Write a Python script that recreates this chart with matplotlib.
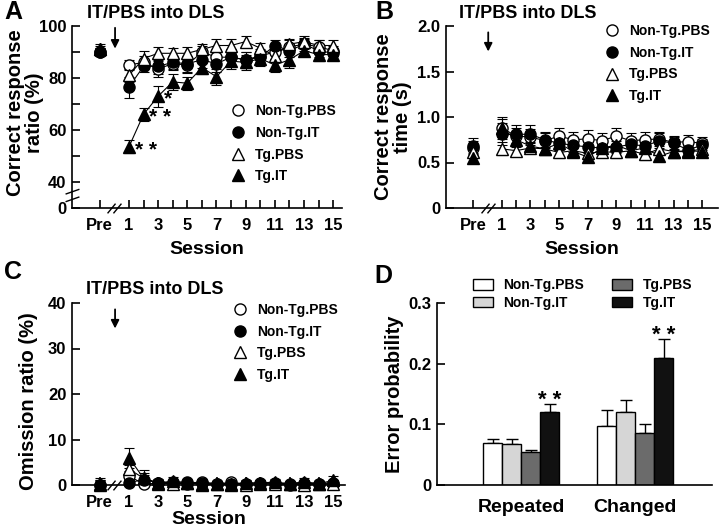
import numpy as np
import matplotlib
matplotlib.use("Agg")
import matplotlib.pyplot as plt
from matplotlib.patches import Patch
from matplotlib.lines import Line2D
from matplotlib.path import Path

plt.rcParams['font.family'] = ['Liberation Sans', 'DejaVu Sans']
plt.rcParams['font.weight'] = 'bold'

# sessions: Pre, then 1..15
session_x = [-1] + list(range(1, 16))
tick_labels = ["Pre"] + [str(s) if s % 2 == 1 else "" for s in range(1, 16)]
groups = ["Non-Tg.PBS", "Non-Tg.IT", "Tg.PBS", "Tg.IT"]

# A: correct response ratio (%)
ratio_ntg_pbs = [90, 85, 86, 83.5, 85.5, 85, 90, 88, 88, 87, 88.5, 90, 92, 93, 92, 90.5]
ratio_ntg_it = [90, 76.5, 84.5, 84.5, 86, 85.5, 87, 85.5, 88, 87, 88, 92.5, 90.5, 93, 90.5, 89.5]
ratio_tg_pbs = [91, 81, 87.5, 89.5, 89.5, 89.5, 91, 92.5, 92.5, 94, 91.5, 88.5, 93, 94, 92.5, 92.5]
ratio_tg_it = [91, 53.5, 66, 73, 78.5, 78, 84, 80.5, 86.5, 86, 87.5, 85, 87, 90.5, 89, 89]
ratio_err_ntg_pbs = [1.5, 2, 2.5, 3, 2.5, 3, 2.5, 3, 3, 3, 2.5, 2.5, 2.5, 2.5, 2.5, 2]
ratio_err_ntg_it = [1.5, 4, 2, 3, 2.5, 3, 3, 3, 3, 3, 2.5, 2, 2.5, 2, 2.5, 2]
ratio_err_tg_pbs = [1.5, 2.5, 3, 2.5, 2, 2.5, 2, 2.5, 2.5, 2, 2, 2.5, 2, 2, 2, 2]
ratio_err_tg_it = [2, 2.5, 2.5, 4, 3, 2.5, 2.5, 3, 3, 3, 3, 2.5, 3, 2, 2.5, 2]

# B: correct response time (s)
time_ntg_pbs = [0.66, 0.88, 0.79, 0.78, 0.74, 0.79, 0.75, 0.76, 0.74, 0.79, 0.74, 0.75, 0.76, 0.72, 0.73, 0.71]
time_ntg_it = [0.68, 0.81, 0.81, 0.81, 0.75, 0.71, 0.69, 0.67, 0.66, 0.67, 0.70, 0.68, 0.74, 0.71, 0.64, 0.69]
time_tg_pbs = [0.62, 0.65, 0.63, 0.66, 0.65, 0.61, 0.63, 0.60, 0.62, 0.61, 0.63, 0.59, 0.65, 0.62, 0.62, 0.65]
time_tg_it = [0.55, 0.88, 0.75, 0.68, 0.65, 0.71, 0.62, 0.56, 0.66, 0.69, 0.63, 0.66, 0.57, 0.62, 0.63, 0.62]
time_err_ntg_pbs = [0.08, 0.1, 0.09, 0.09, 0.08, 0.09, 0.09, 0.1, 0.08, 0.09, 0.08, 0.08, 0.08, 0.07, 0.07, 0.07]
time_err_ntg_it = [0.09, 0.12, 0.1, 0.1, 0.08, 0.07, 0.07, 0.07, 0.07, 0.07, 0.07, 0.07, 0.08, 0.07, 0.07, 0.07]
time_err_tg_pbs = [0.06, 0.07, 0.06, 0.06, 0.06, 0.06, 0.06, 0.06, 0.06, 0.06, 0.06, 0.06, 0.06, 0.06, 0.06, 0.06]
time_err_tg_it = [0.05, 0.12, 0.08, 0.07, 0.06, 0.07, 0.06, 0.05, 0.06, 0.07, 0.06, 0.06, 0.05, 0.06, 0.06, 0.05]

# C: omission ratio (%)
omit_ntg_pbs = [0.0, 2.0, 0.2, 0.4, 0.3, 0.3, 0.7, 0.2, 0.6, 0.2, 0.3, 0.2, 0.1, 0.2, 0.2, 0.2]
omit_ntg_it = [0.0, 0.5, 1.2, 0.5, 0.6, 0.6, 0.5, 0.3, 0.3, 0.3, 0.5, 0.4, 0.3, 0.4, 0.3, 0.5]
omit_tg_pbs = [0.0, 3.5, 1.5, 0.3, 0.2, 0.4, 0.3, 0.2, 0.0, 0.1, 0.2, 0.3, 0.2, 0.1, 0.2, 0.3]
omit_tg_it = [0.3, 6.0, 1.5, 0.5, 0.8, 0.5, 0.0, 0.2, 0.3, 0.4, 0.5, 0.6, 0.3, 0.7, 0.3, 1.0]
omit_err_ntg_pbs = [1.0, 1.0, 0.5, 0.5, 0.5, 0.5, 0.6, 0.4, 0.6, 0.4, 0.4, 0.4, 0.3, 0.4, 0.4, 0.4]
omit_err_ntg_it = [1.2, 0.5, 1.0, 0.6, 0.6, 0.6, 0.5, 0.4, 0.4, 0.4, 0.5, 0.4, 0.4, 0.5, 0.4, 0.5]
omit_err_tg_pbs = [0.8, 1.0, 1.2, 0.5, 0.4, 0.5, 0.4, 0.4, 0.3, 0.3, 0.4, 0.4, 0.4, 0.3, 0.4, 0.4]
omit_err_tg_it = [1.2, 2.2, 1.8, 0.8, 0.9, 0.7, 0.4, 0.5, 0.5, 0.6, 0.6, 0.7, 0.5, 0.9, 0.5, 0.9]

# D: error probability
trial_types = ["Repeated", "Changed"]
err_prob = {
    "Non-Tg.PBS": [0.070, 0.097],
    "Non-Tg.IT": [0.068, 0.120],
    "Tg.PBS": [0.054, 0.085],
    "Tg.IT": [0.121, 0.209],
}
err_prob_sem = {
    "Non-Tg.PBS": [0.006, 0.027],
    "Non-Tg.IT": [0.008, 0.020],
    "Tg.PBS": [0.004, 0.015],
    "Tg.IT": [0.012, 0.032],
}
bar_colors = ["white", "#d6d6d6", "#6b6b6b", "#111111"]

# marker styles per group
styles = {
    "Non-Tg.PBS": dict(marker="o", mfc="white"),
    "Non-Tg.IT": dict(marker="o", mfc="black"),
    "Tg.PBS": dict(marker="^", mfc="white"),
    "Tg.IT": dict(marker="^", mfc="black"),
}
MS = 8

xbreak = Path([(-1.0, -0.7), (0.15, 0.7), (-0.15, -0.7), (1.0, 0.7)],
              [Path.MOVETO, Path.LINETO, Path.MOVETO, Path.LINETO])
ybreak = Path([(-1.0, -0.9), (1.0, -0.2), (-1.0, 0.2), (1.0, 0.9)],
              [Path.MOVETO, Path.LINETO, Path.MOVETO, Path.LINETO])


def session_panel(ax, series, errs, ylim, yticks, yticklabels, minor=None, xlabelpad=6):
    x = np.array(session_x)
    for name, y, e in zip(groups, series, errs):
        st = styles[name]
        y = np.array(y)
        ax.plot(x[1:], y[1:], "-", color="black", lw=0.8, zorder=2, clip_on=False)
        ax.errorbar(x, y, yerr=e, fmt="none", ecolor="black", elinewidth=0.8,
                    capsize=3.5, capthick=0.8, zorder=3, clip_on=False)
        ax.plot(x, y, ls="none", marker=st["marker"], ms=MS, mfc=st["mfc"],
                mec="black", mew=1.0, zorder=4, clip_on=False)
    ax.set_ylim(*ylim)
    ax.set_yticks(yticks)
    ax.set_yticklabels(yticklabels)
    if minor is not None:
        ax.set_yticks(minor, minor=True)
    ax.set_xticks(session_x)
    ax.set_xticklabels(tick_labels)
    for s in ["top", "right"]:
        ax.spines[s].set_visible(False)
    for s in ["left", "bottom"]:
        ax.spines[s].set_linewidth(1.2)
    ax.tick_params(direction="in", length=6, width=1.2, labelsize=12, pad=4)
    ax.tick_params(axis="x", pad=7)
    ax.tick_params(axis="y", which="minor", direction="in", length=6, width=1.2)
    ax.set_xlabel("Session", fontsize=14, fontweight="bold", labelpad=xlabelpad)
    # axis break on the x axis between Pre and 1
    ax.plot([0], [ylim[0]], ls="none", marker=xbreak, ms=10, mec="black",
            mew=1.0, clip_on=False, zorder=5)


def add_legend(ax, x, y):
    handles = [Line2D([], [], ls="none", marker=styles[g]["marker"], ms=MS,
                      mfc=styles[g]["mfc"], mec="black", mew=1.0) for g in groups]
    ax.legend(handles, groups, loc="upper left", bbox_to_anchor=(x, y),
              frameon=False, fontsize=10, handlelength=1.0, handletextpad=0.7,
              labelspacing=0.55, borderpad=0, borderaxespad=0)


def add_arrow(ax, x, y0, y1):
    ax.annotate("", xy=(x, y1), xytext=(x, y0),
                arrowprops=dict(arrowstyle="-|>", color="black", lw=1.3,
                                mutation_scale=12, shrinkA=0, shrinkB=0),
                annotation_clip=False)


fig = plt.figure(figsize=(7.2, 5.32), dpi=100)
W, H = 720.0, 532.0


def rect(l, r, t, b):
    return [l / W, 1 - b / H, (r - l) / W, (b - t) / H]


axA = fig.add_axes(rect(72, 342, 26, 208))
axB = fig.add_axes(rect(446, 718, 26, 208))
axC = fig.add_axes(rect(72, 345, 303, 485))
axD = fig.add_axes(rect(437, 712, 303, 485))

# ---- A
session_panel(axA, [ratio_ntg_pbs, ratio_ntg_it, ratio_tg_pbs, ratio_tg_it],
              [ratio_err_ntg_pbs, ratio_err_ntg_it, ratio_err_tg_pbs, ratio_err_tg_it],
              (30, 100), [30, 40, 60, 80, 100], ["0", "40", "60", "80", "100"],
              minor=[50, 70, 90])
axA.set_xlim(-2.9, 15.6)
axA.plot([-2.9], [35], ls="none", marker=ybreak, ms=10, mec="black", mew=1.0,
         clip_on=False, zorder=5)
add_legend(axA, 0.59, 0.57)
star_kw = dict(fontsize=15, va="center", ha="left")
axA.text(1.4, 52.2, "* *", **star_kw)
axA.text(2.4, 64.7, "* *", **star_kw)
axA.text(3.4, 71.8, "*", **star_kw)
add_arrow(axA, 0.05, 99.3, 91.3)

# ---- B
session_panel(axB, [time_ntg_pbs, time_ntg_it, time_tg_pbs, time_tg_it],
              [time_err_ntg_pbs, time_err_ntg_it, time_err_tg_pbs, time_err_tg_it],
              (0, 2.0), [0, 0.5, 1.0, 1.5, 2.0], ["0", "0.5", "1.0", "1.5", "2.0"])
axB.set_xlim(-2.9, 16.1)
add_legend(axB, 0.585, 1.01)
add_arrow(axB, 0.05, 1.93, 1.72)

# ---- C
session_panel(axC, [omit_ntg_pbs, omit_ntg_it, omit_tg_pbs, omit_tg_it],
              [omit_err_ntg_pbs, omit_err_ntg_it, omit_err_tg_pbs, omit_err_tg_it],
              (0, 40), [0, 10, 20, 30, 40], ["0", "10", "20", "30", "40"],
              xlabelpad=1)
axC.set_xlim(-2.9, 15.8)
add_legend(axC, 0.59, 1.0)
add_arrow(axC, 0.05, 38.6, 34.4)

# ---- D
centers = np.array([4.45, 10.45])
offsets = [-1.5, -0.5, 0.5, 1.5]
for g, off, col in zip(groups, offsets, bar_colors):
    axD.bar(centers + off, err_prob[g], width=1.0, color=col, edgecolor="black",
            linewidth=1.0, zorder=2)
    axD.errorbar(centers + off, err_prob[g], yerr=[[0, 0], err_prob_sem[g]],
                 fmt="none", ecolor="black", elinewidth=1.0, capsize=4,
                 capthick=1.0, zorder=1)
for c, v, e in zip(centers, err_prob["Tg.IT"], err_prob_sem["Tg.IT"]):
    axD.text(c + 1.5, v + e + 0.006, "* *", fontsize=16, ha="center", va="center")
axD.set_xlim(0, 14.5)
axD.set_ylim(0, 0.3)
axD.set_yticks([0, 0.1, 0.2, 0.3])
axD.set_yticklabels(["0", "0.1", "0.2", "0.3"])
axD.set_xticks(centers)
axD.set_xticklabels(trial_types, fontsize=14)
for s in ["top", "right"]:
    axD.spines[s].set_visible(False)
for s in ["left", "bottom"]:
    axD.spines[s].set_linewidth(1.2)
axD.tick_params(axis="y", direction="in", length=6, width=1.2, labelsize=12, pad=4)
axD.tick_params(axis="x", length=0, pad=10)
bar_handles = [Patch(facecolor=c, edgecolor="black", linewidth=1.0) for c in bar_colors]
axD.legend(bar_handles, groups, ncol=2, loc="upper left", bbox_to_anchor=(0.13, 1.135),
           frameon=False, fontsize=10, handlelength=1.45, handleheight=0.8,
           handletextpad=0.75, labelspacing=0.25, columnspacing=2.0,
           borderpad=0, borderaxespad=0)

# titles, labels, panel letters
for xc, yc in [(156, 14), (528, 14), (155, 290)]:
    fig.text(xc / W, 1 - yc / H, "IT/PBS into DLS", fontsize=13, ha="center", va="center")
for lab, xc, yc in [("A", 13, 12), ("B", 384, 12), ("C", 13, 272), ("D", 383, 276)]:
    fig.text(xc / W, 1 - yc / H, lab, fontsize=18, ha="center", va="center")
fig.text(25 / W, 1 - 113 / H, "Correct response\nratio (%)", fontsize=14.5, rotation=90,
         ha="center", va="center", multialignment="center", linespacing=1.0)
fig.text(393 / W, 1 - 117 / H, "Correct response\ntime (s)", fontsize=14.5, rotation=90,
         ha="center", va="center", multialignment="center", linespacing=1.0)
fig.text(29 / W, 1 - 401 / H, "Omission ratio (%)", fontsize=14.5, rotation=90,
         ha="center", va="center")
fig.text(394 / W, 1 - 394 / H, "Error probability", fontsize=14.5, rotation=90,
         ha="center", va="center")

fig.savefig("out.png", dpi=100)
